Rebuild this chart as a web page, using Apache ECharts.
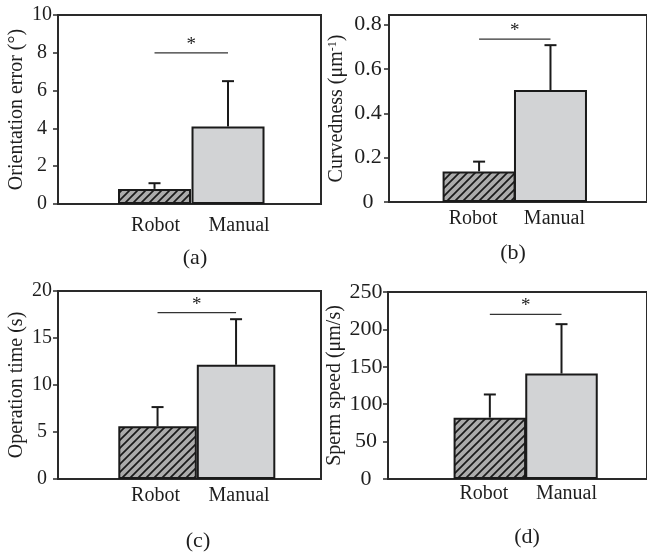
<!DOCTYPE html>
<html><head><meta charset="utf-8">
<script src="https://cdn.jsdelivr.net/npm/echarts@6/dist/echarts.min.js"></script>
<style>html,body{margin:0;padding:0;background:#fff}#c{width:647px;height:553px}</style>
</head><body><div id="c"></div>
<script>
// ---- data ----
const categories = ['Robot', 'Manual'];
const orientationMean = [0.8, 4.1];
const orientationUpper = [1.1, 6.5];
const curvednessMean = [0.138, 0.505];
const curvednessUpper = [0.182, 0.707];
const operationMean = [5.6, 12.15];
const operationUpper = [7.65, 17.0];
const speedMean = [82, 141];
const speedUpper = [113, 207];
const significanceLevel = [8, 0.734, 17.7, 220];
const yMax = [10, 0.843, 20, 250];
const yInterval = [2, 0.2, 5, 50];
const yNames = ['Orientation error (°)', 'Curvedness (μm{sup|-1})', 'Operation time (s)', 'Sperm speed (μm/s)'];
const panelLetters = ['(a)', '(b)', '(c)', '(d)'];

const means = [orientationMean, curvednessMean, operationMean, speedMean];
const uppers = [orientationUpper, curvednessUpper, operationUpper, speedUpper];

// ---- layout / style ----
const FONT = '"Liberation Serif", "Times New Roman", serif';
const INK = '#1e1e1e';
const panels = [
  {left: 58, top: 15, width: 263, height: 189, xMin: -0.313, xMax: 3.265, barWidth: 73, nameGap: 31, yLabelMargin: 16, yLabelSize: 20, xLabelMargin: 12, labelShift: [1, 11], lx: 195, ly: 258},
  {left: 389, top: 15, width: 262, height: 187, xMin: -0.262, xMax: 3.352, barWidth: 73, nameGap: 42, yLabelMargin: 21, yLabelSize: 22, xLabelMargin: 7, labelShift: [-6, 4], lx: 513, ly: 253},
  {left: 58, top: 291, width: 263, height: 188, xMin: -0.268, xMax: 3.082, barWidth: 78.5, nameGap: 31, yLabelMargin: 16, yLabelSize: 20, xLabelMargin: 7, labelShift: [-2, 3], lx: 198, ly: 541},
  {left: 388, top: 292, width: 262, height: 187, xMin: -0.421, xMax: 3.193, barWidth: 72.5, nameGap: 43, yLabelMargin: 22, yLabelSize: 22, xLabelMargin: 5, labelShift: [-6, 5], lx: 527, ly: 537}
];

function hatchPattern() {
  const c = document.createElement('canvas');
  c.width = 8; c.height = 8;
  const g = c.getContext('2d');
  g.fillStyle = '#ababab';
  g.fillRect(0, 0, 8, 8);
  g.strokeStyle = '#1a1a1a';
  g.lineWidth = 1.7;
  g.beginPath();
  g.moveTo(-2, 10); g.lineTo(10, -2);
  g.moveTo(-2, 2); g.lineTo(2, -2);
  g.moveTo(6, 10); g.lineTo(10, 6);
  g.stroke();
  return c;
}
const hatch = {image: hatchPattern(), repeat: 'repeat'};
const barFills = [hatch, '#d2d3d5'];

const grids = [], xAxes = [], yAxes = [], series = [], graphics = [];
panels.forEach((p, i) => {
  grids.push({left: p.left, top: p.top, width: p.width, height: p.height, show: true,
    borderColor: '#2a2a2a', borderWidth: 2, backgroundColor: 'transparent'});
  const pxPerUnit = p.width / (p.xMax - p.xMin);
  xAxes.push({
    type: 'value', gridIndex: i, min: p.xMin, max: p.xMax,
    axisLine: {show: true, onZero: false, lineStyle: {color: '#2a2a2a', width: 2}},
    axisTick: {show: false}, splitLine: {show: false},
    axisLabel: {
      customValues: categories.map((c, k) => k + 1 + p.labelShift[k] / pxPerUnit),
      formatter: v => categories[Math.round(v) - 1],
      fontFamily: FONT, fontSize: 20, color: INK, margin: p.xLabelMargin
    }
  });
  yAxes.push({
    type: 'value', gridIndex: i, min: 0, max: yMax[i], interval: yInterval[i],
    name: yNames[i], nameLocation: 'middle', nameRotate: 90, nameGap: p.nameGap,
    nameTextStyle: {fontFamily: FONT, fontSize: 20, color: INK,
      rich: {sup: {fontFamily: FONT, fontSize: 12, color: INK, verticalAlign: 'top'}}},
    axisLine: {show: true, onZero: false, lineStyle: {color: '#2a2a2a', width: 2}},
    axisTick: {show: true, inside: false, length: 5, lineStyle: {color: '#2a2a2a', width: 1.5}},
    splitLine: {show: false},
    axisLabel: {fontFamily: FONT, fontSize: p.yLabelSize, color: INK, align: 'center',
      margin: p.yLabelMargin, showMaxLabel: i !== 1}
  });
  series.push({
    type: 'bar', xAxisIndex: i, yAxisIndex: i, barWidth: p.barWidth,
    data: means[i].map((m, k) => ({value: [k + 1, m],
      itemStyle: {color: barFills[k], borderColor: '#1a1a1a', borderWidth: 2}})),
    silent: true, animation: false
  });
  series.push({
    type: 'custom', xAxisIndex: i, yAxisIndex: i, animation: false, silent: true,
    data: means[i].map((m, k) => [k + 1, m, uppers[i][k]]),
    encode: {x: 0, y: [1, 2]},
    z: 5,
    renderItem: (params, api) => {
      const x = api.value(0);
      const p0 = api.coord([x, api.value(1)]);
      const p1 = api.coord([x, api.value(2)]);
      const st = {stroke: '#1a1a1a', lineWidth: 2};
      return {type: 'group', children: [
        {type: 'line', shape: {x1: p0[0], y1: p0[1], x2: p1[0], y2: p1[1]}, style: st},
        {type: 'line', shape: {x1: p1[0] - 6, y1: p1[1], x2: p1[0] + 6, y2: p1[1]}, style: st}
      ]};
    }
  });
  series.push({
    type: 'custom', xAxisIndex: i, yAxisIndex: i, animation: false, silent: true,
    data: [[1, 2, significanceLevel[i]]],
    encode: {x: [0, 1], y: 2},
    z: 5,
    renderItem: (params, api) => {
      const a = api.coord([api.value(0), api.value(2)]);
      const b = api.coord([api.value(1), api.value(2)]);
      return {type: 'group', children: [
        {type: 'line', shape: {x1: a[0], y1: a[1], x2: b[0], y2: b[1]}, style: {stroke: '#333', lineWidth: 1.2}},
        {type: 'text', x: (a[0] + b[0]) / 2, y: a[1] - 8,
          style: {text: '*', fontFamily: FONT, fontSize: 19, fill: INK, align: 'center', verticalAlign: 'middle'}}
      ]};
    }
  });
  graphics.push({type: 'text', x: p.lx, y: p.ly,
    style: {text: panelLetters[i], fontFamily: FONT, fontSize: 22, fill: INK, align: 'center', verticalAlign: 'middle'}});
});

const chart = echarts.init(document.getElementById('c'), null, {renderer: 'canvas'});
chart.setOption({
  animation: false,
  grid: grids, xAxis: xAxes, yAxis: yAxes, series: series, graphic: graphics
});
</script>
</body></html>
